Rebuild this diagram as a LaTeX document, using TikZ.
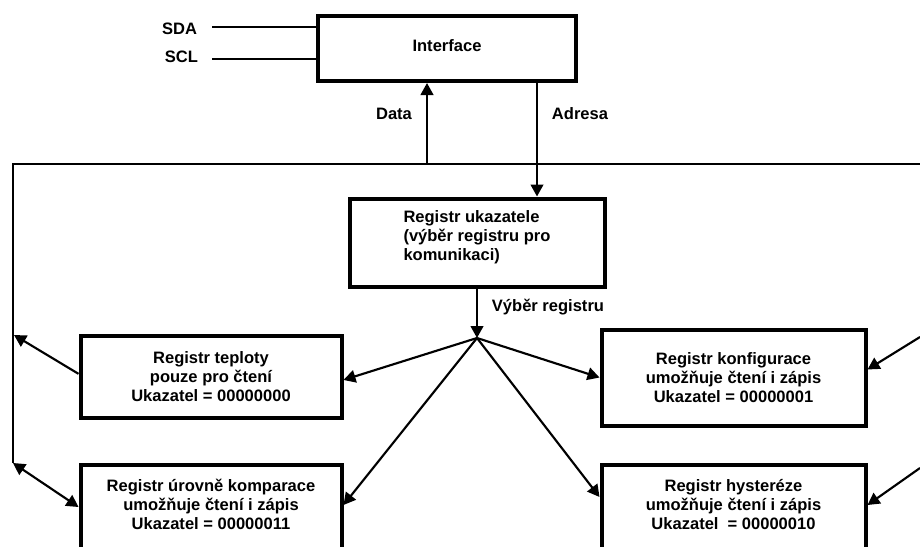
\documentclass[tikz,border=0pt]{standalone}
\usepackage{fontspec}
\setmainfont{Liberation Sans}
\usetikzlibrary{arrows.meta}
\begin{document}
\begin{tikzpicture}[x=0.75pt,y=-0.75pt,
  every node/.style={font=\bfseries\fontsize{12.4}{14.25}\selectfont},
  blk/.style={draw, line width=3pt, inner sep=0pt, align=center},
  regtxt/.style={align=center, inner sep=0pt},
  lbl/.style={inner sep=0pt},
  wire/.style={line width=1.6pt},
  arr/.style={wire, -{Triangle[length=9pt,width=9.5pt]}},
  darr/.style={wire, {Triangle[length=9pt,width=9.5pt]}-{Triangle[length=9pt,width=9.5pt]}}
]
\useasboundingbox (0,0) rectangle (920,546);
\clip (0,0) rectangle (920,546);

% boxes
\node[blk, minimum width=193.5pt, minimum height=48.75pt, text depth=5pt] (iface) at (447,48.5) {Interface};
\node[blk, minimum width=191.25pt, minimum height=66pt, align=left, text depth=10pt] (ukaz) at (477,242.5) {Registr ukazatele\\(výběr registru pro\\komunikaci)};
\node[blk, minimum width=195.75pt, minimum height=61.5pt] (tepl) at (211,376.5) {Registr teploty\\pouze pro čtení\\Ukazatel = 00000000};
\node[blk, minimum width=198pt, minimum height=72pt] (konf) at (733.5,377.5) {Registr konfigurace\\umožňuje čtení i zápis\\Ukazatel = 00000001};
\node[blk, minimum width=195.75pt, minimum height=75pt, anchor=north] (urov) at (211,463) {};
\node[regtxt] (urovt) at (211,504) {Registr úrovně komparace\\umožňuje čtení i zápis\\Ukazatel = 00000011};
\node[blk, minimum width=198pt, minimum height=75pt, anchor=north] (hyst) at (733.5,463) {};
\node[regtxt] (hystt) at (733.5,505) {Registr hysteréze\\umožňuje čtení i zápis\\Ukazatel\ \ = 00000010};

% labels
\node[lbl] (sda) at (179.5,29) {SDA};
\node[lbl] (scl) at (181.5,57) {SCL};
\node[lbl] (data) at (394,114) {Data};
\node[lbl] (adresa) at (580,114) {Adresa};
\node[lbl] (vyber) at (548,307) {Výběr registru};

% coordinates
\coordinate (sdaend) at (212,27);
\coordinate (sclend) at (212,59);
\coordinate (bl) at (13,164);
\coordinate (br) at (920,164);
\coordinate (lb) at (13,463);
\coordinate (dx) at (427,164);
\coordinate (ax) at (537,100);
\coordinate (hub) at (477,338);
\coordinate (l1) at (14,335);
\coordinate (r1) at (920,337);
\coordinate (r2) at (920,468);

% wires
\draw[wire] (sdaend) -- (sdaend -| iface.west);
\draw[wire] (sclend) -- (sclend -| iface.west);
\draw[wire] (lb) -- (bl) -- (br);
\draw[arr] (dx) -- (dx |- iface.south);
\draw[arr] (iface.south -| ax) -- (ukaz.north -| ax);
\draw[arr] (ukaz.south) -- (hub);
\draw[arr] (hub) -- ([yshift=-2.6pt]tepl.east);
\draw[arr] (hub) -- (konf.west);
\draw[arr] (hub) -- ([yshift=-31.5pt]urov.north east);
\draw[arr] (hub) -- ([yshift=-25.5pt]hyst.north west);
\draw[arr] ([yshift=2pt]tepl.west) -- (l1);
\draw[darr] (lb) -- ([yshift=-33pt]urov.north west);
\draw[arr] (r1) -- ([yshift=6pt]konf.east);
\draw[arr] (r2) -- ([yshift=-31.5pt]hyst.north east);
\end{tikzpicture}
\end{document}
